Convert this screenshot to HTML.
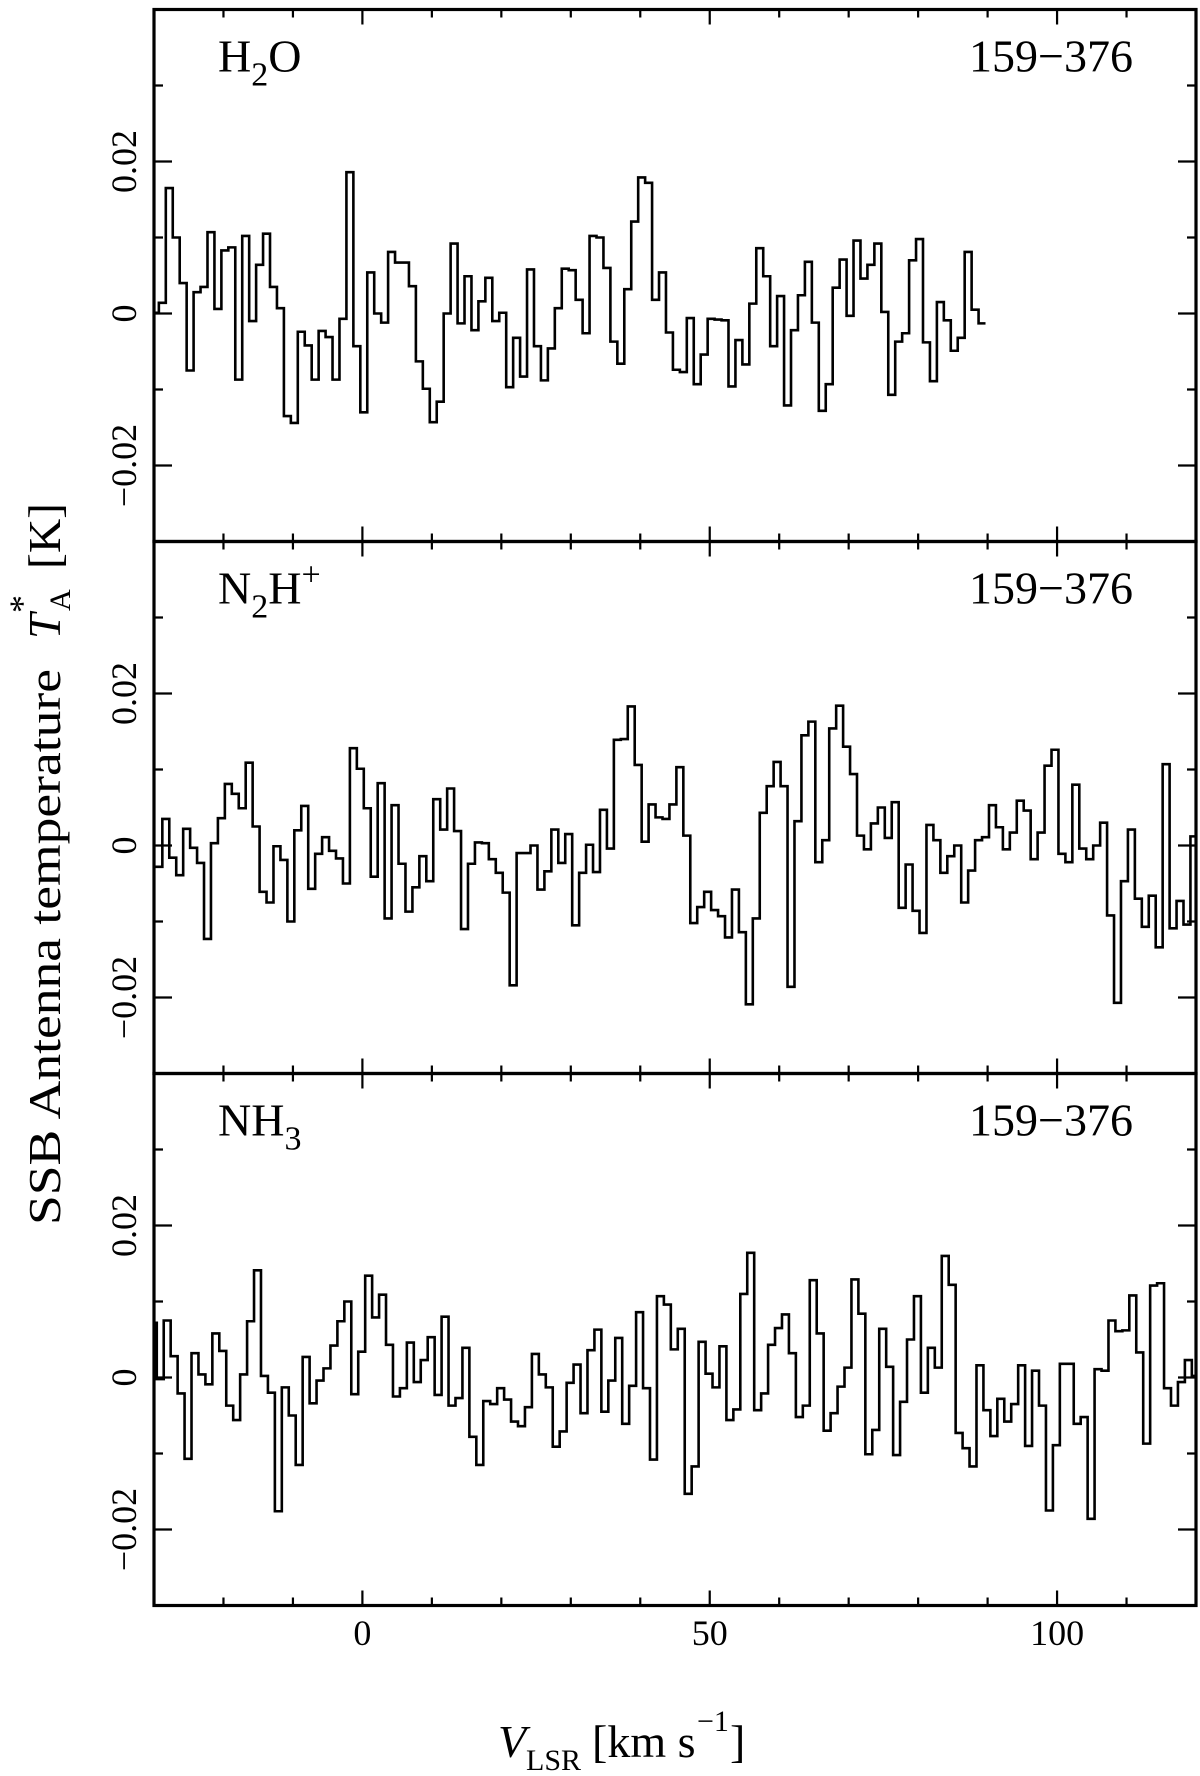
<!DOCTYPE html>
<html><head><meta charset="utf-8"><title>Spectra 159-376</title>
<style>
html,body{margin:0;padding:0;background:#fff;}
svg{display:block;}
text{font-family:"Liberation Serif",serif;fill:#000;}
</style></head>
<body>
<svg id="chart" width="1200" height="1776" viewBox="0 0 1200 1776" xmlns="http://www.w3.org/2000/svg">
<defs><clipPath id="plotclip"><rect x="154" y="0" width="1042" height="1776"/></clipPath></defs>
<g id="panels"></g>
<g transform="translate(60,1225) rotate(-90)">
  <text x="0" y="0" font-size="46" textLength="556" lengthAdjust="spacingAndGlyphs">SSB Antenna temperature</text>
  <text x="586" y="0" font-size="46" font-style="italic">T</text>
  <text x="614" y="10" font-size="30">A</text>
  <text x="612" y="-26" font-size="36">*</text>
  <text x="656" y="0" font-size="46" textLength="66" lengthAdjust="spacingAndGlyphs">[K]</text>
</g>
<g>
  <text x="498" y="1757" font-size="46" font-style="italic">V</text>
  <text x="526" y="1770" font-size="30">LSR</text>
  <text x="592" y="1757" font-size="46">[km s</text>
  <text x="697" y="1731" font-size="30">−1</text>
  <text x="730" y="1757" font-size="46">]</text>
</g>
</svg>
<script>
// data (units: mK), channel width 1 km/s
const h2oStart = -29.8;
const n2hStart = -29.3;
const nh3Start = -30.1;
const h2oValues = [0.1,1.4,16.5,10,4,-7.5,2.8,3.5,10.7,0.6,8.3,8.7,-8.7,10.2,-1,6.4,10.5,3.5,0.7,-13.5,-14.4,-2.4,-4.2,-8.7,-2.3,-3.1,-8.7,-0.7,18.6,-4.3,-13,5.4,0,-1.2,8.1,6.7,6.7,3.6,-6.3,-9.9,-14.3,-11.6,0,9.2,-1.3,4.9,-2.2,1.6,4.7,-1,0.1,-9.7,-3.2,-8.3,5.8,-4.3,-8.8,-4.6,0.7,5.9,5.7,1.8,-2.6,10.2,10,6,-3.7,-6.6,3.2,12.1,17.9,17.2,1.8,5.4,-2.5,-7.4,-7.7,-0.6,-9.3,-5.4,-0.7,-0.8,-0.9,-9.6,-3.5,-6.7,1.3,8.6,4.9,-4.3,2.3,-12.1,-2.2,2.4,6.8,-1.2,-12.8,-9.3,3.4,7.1,-0.3,9.6,4.6,6.4,9.2,0.2,-10.7,-3.7,-2.6,7,9.8,-3.8,-8.9,1.5,-0.9,-4.9,-3.2,8.1,0.5,-1.3];
const n2hValues = [-2.8,3.5,-1.6,-3.9,2.2,-0.3,-2.3,-12.3,0.3,3.6,8.1,6.8,4.9,10.9,2.5,-6.1,-7.5,-0.1,-1.9,-10,2,5.2,-5.7,-1.1,1.1,-0.7,-1.7,-5,12.8,10.1,4.9,-4.1,8.2,-9.6,5.3,-2.4,-8.7,-5.5,-1.4,-4.7,6.1,2.1,7.5,1.9,-11,-2.4,0.4,0.3,-1.8,-3.6,-6.2,-18.4,-1,-1,0,-5.8,-3.4,2.1,-2.3,1.5,-10.5,-3.6,0.1,-3.5,4.7,-0.4,13.9,14,18.3,10.6,0.5,5.4,3.7,3.5,5.4,10.3,1.3,-10.2,-8.1,-6.1,-8.5,-9.3,-12.1,-5.8,-11.4,-20.9,-9.6,4.3,7.8,11,7.8,-18.6,3.2,14.5,16.3,-2.2,0.7,15.4,18.4,13,9.4,1.3,-0.5,2.9,5,1,5.7,-8.2,-2.5,-8.6,-11.5,2.7,0.7,-3.6,-1.4,0,-7.5,-3.3,0.7,1.1,5.3,2.4,-0.5,1.7,5.9,4.6,-1.8,1.7,10.5,12.6,-1.1,-2.2,8,-0.4,-1.8,0,3,-9.2,-20.7,-4.7,2.1,-7,-10.7,-6.6,-13.4,10.7,-10.9,-7.3,-10.4,1.2];
const nh3Values = [7.2,-0.2,7.5,2.8,-2.1,-10.7,3.2,0.4,-0.9,5.8,3.5,-3.7,-5.6,0.4,7.4,14.1,0.2,-2,-17.6,-1.3,-5,-11.5,2.7,-3.4,-0.4,1.2,4.2,7.4,10,-2.2,3.4,13.4,7.9,10.9,4.3,-2.5,-1.4,4.6,-0.6,2.3,5.3,-2.3,8,-3.7,-2.7,3.9,-7.8,-11.5,-3.1,-3.5,-1.4,-2.9,-5.8,-6.4,-3.9,3.1,0.4,-1.3,-9.1,-7.1,-0.7,1.7,-4.7,3.6,6.3,-4.5,-0.4,5.2,-6.1,-1.1,8.6,-1.4,-10.8,10.7,9.6,3.7,6.4,-15.3,-11.7,4.7,0.5,-1.3,4.1,-5.6,-4.2,11,16.4,-4.3,-2.1,4.3,6.5,8.3,3.2,-5.2,-3.7,12.8,5.8,-7,-4.7,-1.2,1.3,12.9,8.4,-10.1,-6.9,6.4,1.4,-10.2,-3.2,5,10.7,-2,3.9,1.3,16,12.2,-7.3,-9.3,-11.7,1.6,-4.3,-7.7,-2.8,-5.8,-3.5,1.6,-9,0.9,-3.7,-17.5,-8.9,1.8,1.8,-6.1,-5.2,-18.6,1.1,0.9,7.5,6.1,6.2,10.8,3.3,-8.7,12.1,12.4,-1.4,-3.7,-0.6,2.3,0.2];
const panelNames = ["h2o","n2h","nh3"];
const yTickValues = [-0.02,0,0.02];
const yTickLabels = ["−0.02","0","0.02"];
const xTickValues = [0,50,100];
const xTickLabels = ["0","50","100"];

const NS="http://www.w3.org/2000/svg";
const L=154,R=1196,VMIN=-30,VMAX=120,YMIN=-0.03,YMAX=0.04;
const tops=[9.5,541.5,1073.5], PH=532;
function X(v){return L+(v-VMIN)/(VMAX-VMIN)*(R-L);}
function Y(val,p){return tops[p]+(YMAX-val)/(YMAX-YMIN)*PH;}
const root=document.getElementById('panels');
function mk(tag,attrs,parent){const e=document.createElementNS(NS,tag);for(const k in attrs)e.setAttribute(k,attrs[k]);(parent||root).appendChild(e);return e;}

const series=[[h2oStart,h2oValues],[n2hStart,n2hValues],[nh3Start,nh3Values]];
for(let p=0;p<3;p++){
  const g=mk('g',{});
  
  
  const top=tops[p],bot=top+PH;
  const fr=mk('rect',{x:L,y:top,width:R-L,height:PH,fill:'none',stroke:'#000','stroke-width':3.2},g);
  
  
  let d='';
  for(let v=-20;v<=110;v+=10){const x=X(v);const len=(v%50===0)?15:8;d+=`M${x},${top}v${len}M${x},${bot}v${-len}`;}
  for(let t=-0.03;t<=0.0401;t+=0.01){const tv=Math.round(t*100)/100;if(tv<=YMIN+1e-9||tv>=YMAX-1e-9)continue;const y=Y(tv,p);const len=(Math.abs(tv)<1e-9||Math.abs(Math.abs(tv)-0.02)<1e-9)?18:9;d+=`M${L},${y}h${len}M${R},${y}h${-len}`;}
  const tk=mk('path',{d:d,stroke:'#000','stroke-width':2.2,fill:'none'},g);
  
  
  yTickValues.forEach((tv,i)=>{const y=Y(tv,p);
    const t=mk('text',{x:0,y:0,'font-size':36,'text-anchor':'middle',transform:`translate(136,${y}) rotate(-90)`},g);
    t.textContent=yTickLabels[i];
    
    });
  const [v0,vals]=series[p];
  let pd='';let first=true;
  vals.forEach((val,i)=>{const c=v0+i;const a=Math.max(c-0.5,VMIN),b=Math.min(c+0.5,VMAX);if(a>=b)return;const y=Y(val/1000,p);
    if(first){pd+=`M${X(a)},${y}`;first=false;}else{pd+=`V${y}`;}pd+=`H${X(b)}`;});
  const sp=mk('path',{d:pd,fill:'none',stroke:'#000','stroke-width':2.6,'stroke-linejoin':'miter','clip-path':'url(#plotclip)'},g);
  
  
  const src=mk('text',{x:1133,y:top+62,'font-size':46,'text-anchor':'end'},g);
  src.textContent='159−376';
  
  
}
function mol(p,parts){const t=mk('text',{x:218,y:tops[p]+62,'font-size':46});
  
  
  parts.forEach(pt=>{const s=document.createElementNS(NS,'tspan');s.textContent=pt[0];if(pt[1])s.setAttribute('dy',pt[1]);if(pt[2])s.setAttribute('font-size',pt[2]);t.appendChild(s);});}
mol(0,[["H"],["2",14,34],["O",-14]]);
mol(1,[["N"],["2",14,34],["H",-14],["+",-18,34]]);
mol(2,[["NH"],["3",14,34]]);
xTickValues.forEach((v,i)=>{const t=mk('text',{x:X(v),y:1645,'font-size':36,'text-anchor':'middle'});t.textContent=xTickLabels[i];
  
  });
</script>
</body></html>
